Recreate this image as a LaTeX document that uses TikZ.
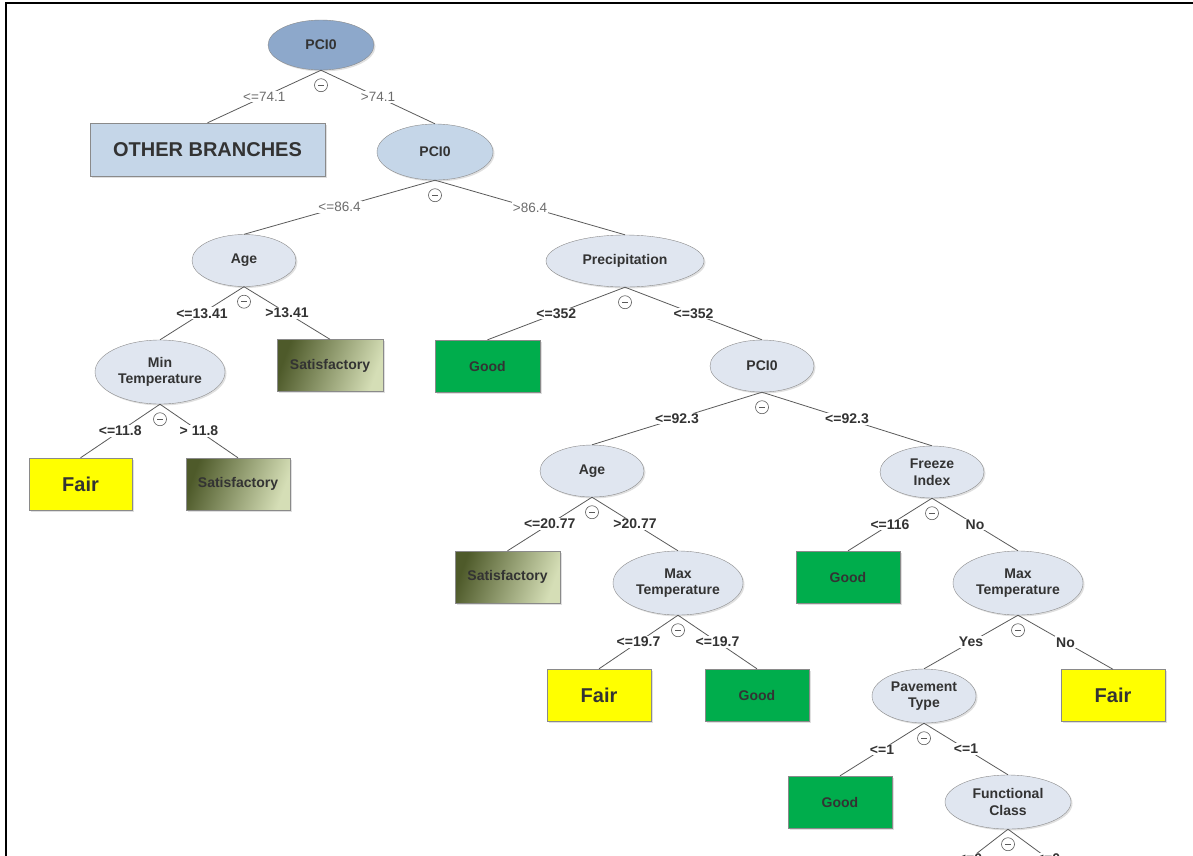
\documentclass[tikz,border=0pt]{standalone}
\usepackage{fontspec}
\setmainfont{Liberation Sans}
\usetikzlibrary{shapes.geometric,shadows}

\definecolor{txt}{HTML}{333333}
\definecolor{edgegray}{HTML}{5A5A5A}
\definecolor{nodeborder}{HTML}{8A8A8A}
\definecolor{rootfill}{HTML}{8DA8CB}
\definecolor{upperfill}{HTML}{C5D6E8}
\definecolor{splitfill}{HTML}{E0E6F0}
\definecolor{goodgreen}{HTML}{00AD4C}
\definecolor{fairyellow}{HTML}{FFFF00}
\definecolor{satdark}{HTML}{4E5A2A}
\definecolor{satlight}{HTML}{D5DEB6}

\tikzset{
  split/.style={ellipse, draw=nodeborder, fill=splitfill, minimum width=104pt,
    minimum height=52pt, inner sep=0pt, align=center, text=txt,
    font=\bfseries\fontsize{14}{16.5}\selectfont,
    drop shadow={shadow xshift=1.5pt, shadow yshift=-1.5pt, opacity=0.25}},
  leafbox/.style={rectangle, draw=nodeborder, minimum width=104pt,
    minimum height=52pt, inner sep=0pt, text=txt,
    font=\bfseries\fontsize{14}{16}\selectfont,
    drop shadow={shadow xshift=1.5pt, shadow yshift=-1.5pt, opacity=0.25}},
  good/.style={leafbox, fill=goodgreen},
  fair/.style={leafbox, fill=fairyellow, font=\bfseries\fontsize{20}{24}\selectfont},
  satis/.style={leafbox, top color=satdark, bottom color=satlight, shading angle=70},
  branch/.style={draw=edgegray, line width=0.8pt},
  cond/.style={fill=white, inner sep=1pt, text=txt,
    font=\bfseries\fontsize{14}{16}\selectfont},
  thincond/.style={cond, text=gray!85!black, font=\fontsize{13.5}{16}\selectfont},
  collapse/.style={circle, draw=edgegray, fill=white, line width=0.6pt,
    minimum size=13pt, inner sep=0pt,
    path picture={\draw[edgegray, line width=0.8pt]
      ([xshift=-3pt]path picture bounding box.center) --
      ([xshift=3pt]path picture bounding box.center);}}
}

\begin{document}
\begin{tikzpicture}[x=1pt, y=-1pt]
    \useasboundingbox (0,0) rectangle (1193,855);
    \clip (0,0) rectangle (1193,855);

    % frame
    \draw[line width=2.5pt] (6,860) -- (6,3) -- (1195,3);

    % upper part
    \node[split, fill=rootfill, minimum width=106pt, minimum height=50pt] (root) at (321,45) {PCI0};
    \node[leafbox, fill=upperfill, minimum width=235pt, minimum height=53pt,
          font=\bfseries\fontsize{20}{24}\selectfont] (other) at (207.5,149.5) {OTHER BRANCHES};
    \node[split, fill=upperfill, minimum width=116pt, minimum height=56pt] (pci2) at (435,152) {PCI0};

    % left subtree
    \node[split] (age1) at (244,260.5) {Age};
    \node[split, minimum width=130pt, minimum height=64pt] (mint) at (160,372) {Min\\Temperature};
    \node[satis, minimum width=106pt] (sat1) at (330,365.5) {Satisfactory};
    \node[fair, minimum width=103pt] (fair1) at (80.5,484) {Fair};
    \node[satis] (sat2) at (238,484) {Satisfactory};

    % right subtree
    \node[split, minimum width=158pt] (prec) at (625,261) {Precipitation};
    \node[good, minimum width=105pt] (good1) at (487.5,366) {Good};
    \node[split] (pci3) at (762,366) {PCI0};
    \node[split] (age2) at (592,471) {Age};
    \node[satis, minimum width=105pt] (sat3) at (507.5,577) {Satisfactory};
    \node[split, minimum width=130pt, minimum height=64pt] (maxt1) at (678,583) {Max\\Temperature};
    \node[fair] (fair2) at (599,695) {Fair};
    \node[good] (good2) at (757,695) {Good};
    \node[split] (freeze) at (932,472) {Freeze\\Index};
    \node[good] (good3) at (848,577) {Good};
    \node[split, minimum width=130pt, minimum height=64pt] (maxt2) at (1018,583) {Max\\Temperature};
    \node[split, minimum height=54pt] (pave) at (924,696) {Pavement\\Type};
    \node[fair] (fair3) at (1113,695.5) {Fair};
    \node[good] (good4) at (840,802) {Good};
    \node[split, minimum width=126pt, minimum height=54pt] (func) at (1008,802) {Functional\\Class};
    \coordinate (cut1) at (932,888);
    \coordinate (cut2) at (1088,888);

    % branches
    \draw[branch] (root.south) -- node[thincond] {<=74.1} (other.north);
    \draw[branch] (root.south) -- node[thincond] {>74.1} (pci2.north);
    \draw[branch] (pci2.south) -- node[thincond] {<=86.4} (age1.north);
    \draw[branch] (pci2.south) -- node[thincond] {>86.4} (prec.north);
    \draw[branch] (age1.south) -- node[cond] {<=13.41} (mint.north);
    \draw[branch] (age1.south) -- node[cond] {>13.41} (sat1.north);
    \draw[branch] (mint.south) -- node[cond] {<=11.8} (fair1.north);
    \draw[branch] (mint.south) -- node[cond] {> 11.8} (sat2.north);
    \draw[branch] (prec.south) -- node[cond] {<=352} (good1.north);
    \draw[branch] (prec.south) -- node[cond] {<=352} (pci3.north);
    \draw[branch] (pci3.south) -- node[cond] {<=92.3} (age2.north);
    \draw[branch] (pci3.south) -- node[cond] {<=92.3} (freeze.north);
    \draw[branch] (age2.south) -- node[cond] {<=20.77} (sat3.north);
    \draw[branch] (age2.south) -- node[cond] {>20.77} (maxt1.north);
    \draw[branch] (maxt1.south) -- node[cond] {<=19.7} (fair2.north);
    \draw[branch] (maxt1.south) -- node[cond] {<=19.7} (good2.north);
    \draw[branch] (freeze.south) -- node[cond] {<=116} (good3.north);
    \draw[branch] (freeze.south) -- node[cond] {No} (maxt2.north);
    \draw[branch] (maxt2.south) -- node[cond] {Yes} (pave.north);
    \draw[branch] (maxt2.south) -- node[cond] {No} (fair3.north);
    \draw[branch] (pave.south) -- node[cond] {<=1} (good4.north);
    \draw[branch] (pave.south) -- node[cond] {<=1} (func.north);
    \draw[branch] (func.south) -- node[cond] {<=0} (cut1);
    \draw[branch] (func.south) -- node[cond] {<=0} (cut2);

    % collapse markers
    \foreach \parent in {root,pci2,age1,mint,prec,pci3,age2,maxt1,freeze,maxt2,pave,func}
        \node[collapse] (min-\parent) at ([yshift=-15pt]\parent.south) {};
\end{tikzpicture}
\end{document}
